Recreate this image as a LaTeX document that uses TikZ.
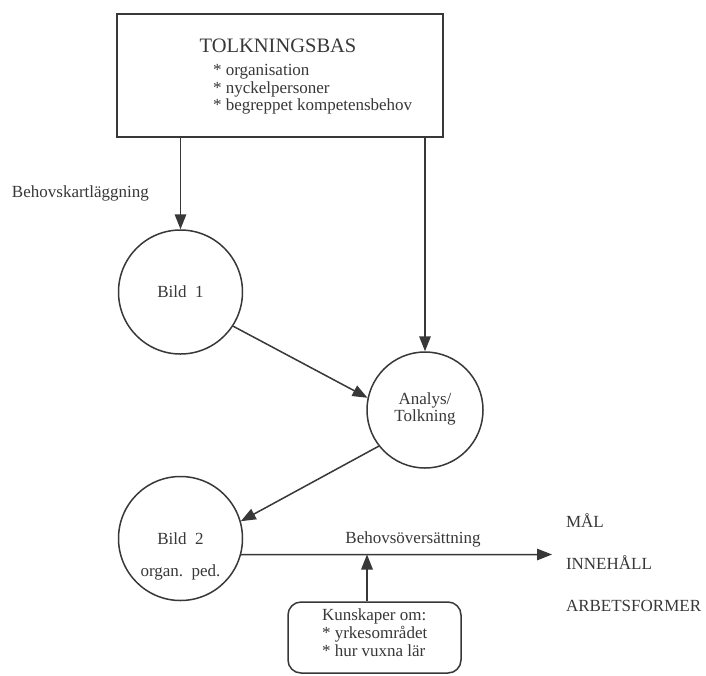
\documentclass[tikz,border=0pt]{standalone}
\usepackage{fontspec}
\setmainfont{Liberation Serif}
\usetikzlibrary{arrows.meta}
\definecolor{ink}{HTML}{383838}
\tikzset{
  lbl/.style={inner sep=0pt, outer sep=0pt, text=ink, font=\fontsize{17}{17}\selectfont},
  bub/.style={circle, draw=ink, line width=1.5pt, inner sep=0pt},
  arr/.style={draw=ink, line width=1.5pt, -{Triangle[length=15pt,width=11.5pt]}},
}
\begin{document}
\begin{tikzpicture}[x=1pt,y=-1pt]
\useasboundingbox[fill=white] (0,0) rectangle (706,675);
% top box
\node[draw=ink, line width=1.5pt, minimum width=326pt, minimum height=123pt, inner sep=0pt] (box) at (280,75.5) {};
\node[lbl, anchor=base, font=\fontsize{20.5}{20.5}\selectfont] (title) at (278,52) {TOLKNINGSBAS};
\node[lbl, anchor=base west] (t1) at (213,75) {* organisation};
\node[lbl, anchor=base west] (t2) at (213,93) {* nyckelpersoner};
\node[lbl, anchor=base west] (t3) at (213,110.5) {* begreppet kompetensbehov};
% circles
\node[bub, minimum size=124pt] (b1) at (180.5,292) {};
\node[lbl] (b1t) at (b1.center) {Bild\ \ 1};
\node[bub, minimum size=116pt] (an) at (425,410) {};
\node[lbl, anchor=base] (an1) at (425,404) {Analys/};
\node[lbl, anchor=base] (an2) at (425,421) {Tolkning};
\node[bub, minimum size=124pt] (b2) at (180.5,538.5) {};
\node[lbl, anchor=base] (b2a) at (180.5,544) {Bild\ \ 2};
\node[lbl, anchor=base] (b2b) at (180.5,576) {organ.\ \ ped.};
% labels
\node[lbl, anchor=base west] (bk) at (12,197) {Behovskartläggning};
\node[lbl, anchor=base] (bo) at (413,543) {Behovsöversättning};
\node[lbl, anchor=base west] (mal) at (566,527) {MÅL};
\node[lbl, anchor=base west] (inn) at (566,569) {INNEHÅLL};
\node[lbl, anchor=base west] (arb) at (566,611) {ARBETSFORMER};
% bottom box
\node[draw=ink, line width=1.5pt, rounded corners=13pt, minimum width=173pt, minimum height=71pt, inner sep=0pt] (kn) at (374.5,637.5) {};
\node[lbl, anchor=base west] (k1) at (322,620) {Kunskaper om:};
\node[lbl, anchor=base west] (k2) at (322,638) {* yrkesområdet};
\node[lbl, anchor=base west] (k3) at (322,656) {* hur vuxna lär};
% connectors
\coordinate (tip) at (552,554.5);
\coordinate (join) at (367,554.5);
\draw[arr] (b1.north |- box.south) -- (b1.north);
\draw[arr] (an.north |- box.south) -- (an.north);
\draw[arr] (b1.-33) -- (an.168);
\draw[arr] (an.218) -- (b2.16);
\draw[arr] (b2.-15) -- (tip);
\draw[arr] (join |- kn.north) -- (join);
\end{tikzpicture}
\end{document}
